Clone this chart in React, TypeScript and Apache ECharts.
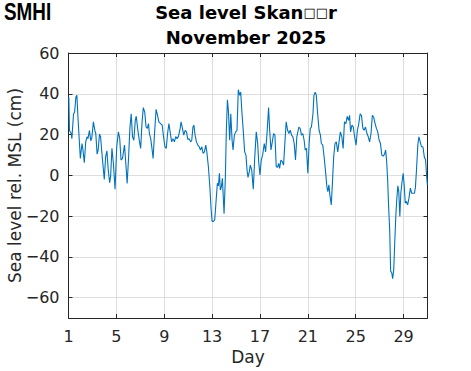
import React, { useEffect, useRef } from "react";
import * as echarts from "echarts";

const days: number[] = [
  1.0, 1.03, 1.08, 1.23, 1.28, 1.42, 1.51, 1.62, 1.7, 1.79, 1.9, 1.99, 2.13, 2.21, 2.32, 2.44, 2.55, 2.63, 2.75, 2.86,
  2.94, 3.08, 3.2, 3.28, 3.39, 3.48, 3.59, 3.68, 3.82, 3.99, 4.1, 4.21, 4.32, 4.44, 4.52, 4.63, 4.75, 4.89, 5.03, 5.17,
  5.28, 5.39, 5.51, 5.68, 5.79, 5.9, 6.01, 6.13, 6.24, 6.35, 6.46, 6.58, 6.66, 6.8, 6.92, 7.03, 7.14, 7.25, 7.37, 7.48,
  7.59, 7.68, 7.76, 7.87, 7.99, 8.07, 8.18, 8.32, 8.44, 8.55, 8.69, 8.83, 8.94, 9.06, 9.17, 9.28, 9.39, 9.51, 9.62, 9.73,
  9.85, 9.96, 10.07, 10.18, 10.3, 10.41, 10.52, 10.63, 10.75, 10.86, 10.97, 11.08, 11.2, 11.3, 11.4, 11.48, 11.58, 11.69,
  11.81, 11.92, 12.03, 12.14, 12.25, 12.36, 12.47, 12.56, 12.69, 12.81, 12.92, 13.0, 13.11, 13.22, 13.33, 13.44, 13.53,
  13.61, 13.69, 13.78, 13.86, 14.0, 14.11, 14.19, 14.28, 14.36, 14.47, 14.56, 14.67, 14.75, 14.86, 14.97, 15.08, 15.19,
  15.31, 15.39, 15.5, 15.61, 15.72, 15.83, 15.92, 16.0, 16.11, 16.19, 16.31, 16.44, 16.56, 16.69, 16.81, 16.89, 17.0,
  17.11, 17.22, 17.36, 17.47, 17.58, 17.64, 17.72, 17.81, 17.92, 18.03, 18.14, 18.25, 18.36, 18.47, 18.56, 18.64, 18.75,
  18.86, 18.97, 19.08, 19.19, 19.31, 19.42, 19.53, 19.64, 19.75, 19.86, 19.97, 20.08, 20.25, 20.36, 20.47, 20.58, 20.69,
  20.78, 20.89, 21.0, 21.11, 21.2, 21.3, 21.43, 21.51, 21.62, 21.71, 21.82, 21.94, 22.05, 22.13, 22.25, 22.36, 22.48,
  22.59, 22.67, 22.76, 22.84, 22.96, 23.04, 23.16, 23.27, 23.38, 23.5, 23.61, 23.72, 23.84, 23.95, 24.06, 24.18, 24.29,
  24.4, 24.49, 24.57, 24.69, 24.8, 24.91, 25.03, 25.14, 25.26, 25.37, 25.48, 25.6, 25.71, 25.82, 25.94, 26.05, 26.16,
  26.28, 26.39, 26.5, 26.62, 26.73, 26.84, 26.96, 27.07, 27.18, 27.3, 27.41, 27.5, 27.58, 27.67, 27.75, 27.84, 27.92,
  28.01, 28.09, 28.18, 28.26, 28.35, 28.43, 28.52, 28.6, 28.69, 28.77, 28.89, 28.97, 29.06, 29.14, 29.23, 29.34, 29.45,
  29.57, 29.68, 29.79, 29.91, 29.99, 30.08, 30.19, 30.28, 30.39, 30.5, 30.62, 30.73, 30.84, 30.93, 30.99,
];

const seaLevel: number[] = [
  38.4, 38, 22, 20.5, 18, 30, 31, 38.4, 39.2, 28.6, 17.2, 8.3, 15.6, 12.4, 6.2, 16.4, 18.9, 18, 22, 17,
  18, 26.2, 22, 20.5, 10.4, 12.4, 20.2, 18.9, 9, -2, 9, 12, 2.6, -3.6, -0.6, 13.2, 5.9, -6.8, 14, 21.3,
  18, 7.5, 8.3, 14.8, 5.9, -4, 7.5, 23, 30.2, 18.9, 17.2, 27, 29, 22, 17, 13.2, 25.4, 33.2, 31, 23.7,
  23, 25.4, 20.5, 18, 12.4, 8.3, 19.7, 32.4, 29.4, 26.2, 25.4, 24.6, 19, 14, 13.2, 20.5, 25.4, 20.5, 16.4, 18,
  16.4, 19, 18, 19, 22, 26.2, 23, 19.7, 22, 21.3, 17.6, 18, 16.4, 17.2, 23.7, 24.6, 19.7, 16.4,
  14.8, 14, 12.4, 14, 10.7, 11.5, 14.8, 11.5, 4.2, -5.5, -16.9, -22.6, -22.6, -21.8, -12.8, -3.9, -5.2,
  1, -7.2, -5.5, -1.5, -18.9, -0.7, 22.1, 37.1, 31.9, 17.2, 30.2, 17.2, 12.4, 19.7, 21.3, 22.1, 42,
  39.2, 40.8, 30.2, 21.3, 11.5, 9.9, 2.6, -1, 1.8, 5, 2.6, -6.8, 8.3, 21.3, 15.6, 6.7, 0.2,
  7.5, 9.9, 15.6, 11.5, 19.7, 25.4, 33.2, 22.1, 12.4, 16.4, 20.5, 19.7, 4.2, 3.9, 5.9, 3.4, 7.5,
  6.7, 5, 15.6, 26.2, 22.1, 20.5, 22.1, 19.7, 18.9, 15.6, 7.5, 18.9, 23.7, 22.9, 19.7, 20.5, 17.2,
  12.4, 13.2, 1, 15.6, 22.9, 23.7, 30.2, 39.2, 40.8, 39.2, 30.2, 22.1, 19.7, 15.6, 14.8, 9.1, 1.8,
  -5.5, -8, -4.7, -9.6, -14.5, -5.5, 9.1, 15.6, 16.4, 11.5, 16.4, 21.3, 18.9, 13.2, 26.2, 25.4, 28.9,
  27, 29.4, 21.3, 24.6, 23.7, 18.9, 14.8, 22.1, 25.4, 30.2, 29.4, 23, 22.1, 23.7, 20.5, 18.9, 16.4,
  20.5, 29.4, 28.6, 25.4, 23, 21.3, 17.2, 15.6, 9.9, 9.4, 10.4, 12.4, 7.5, -2.3, -15.3, -26.7, -47,
  -47.8, -50.7, -46.2, -33.2, -20.2, -12, -5.2, -8, -20.2, -8.8, -2.3, 1, -5.5, -13.7, -12.8, -14.5, -11.2,
  -6.3, -8.8, -8.8, -8.8, -5.9, 2.6, 14.8, 18.9, 16.4, 14, 14, 9.1, 7.5, -0.7, -4.7,
];

const yTicks: number[] = [-60, -40, -20, 0, 20, 40, 60];
const titleLines: string[] = ["Sea level Skan{box|\u25A1\u25A1}r", "November 2025"];

const FONT = "DejaVu Sans";
const AXIS = "#262626";
const GRID = "#dedede";

export default function App() {
  const ref = useRef<HTMLDivElement>(null);
  useEffect(() => {
    if (!ref.current) return;
    const chart = echarts.init(ref.current, undefined, { renderer: "svg" });
    const fmt = (v: number) => String(v).replace("-", "\u2212");
    const baseX = {
      type: "value" as const,
      min: 1,
      max: 31,
      interval: 4,
      axisLine: { show: true, onZero: false, lineStyle: { color: AXIS, width: 1 } },
      axisTick: { show: true, inside: true, length: 4, lineStyle: { color: AXIS, width: 1 } },
    };
    const baseY = {
      type: "value" as const,
      min: -70,
      max: 60,
      splitNumber: 7,
      axisLine: { show: true, onZero: false, lineStyle: { color: AXIS, width: 1 } },
      axisTick: { show: true, inside: true, length: 4, customValues: yTicks, lineStyle: { color: AXIS, width: 1 } },
    };
    chart.setOption({
      animation: false,
      backgroundColor: "#ffffff",
      grid: {
        left: 68.5,
        right: 43.5,
        top: 53,
        bottom: 53,
        containLabel: false,
        outerBoundsMode: "none",
      },
      xAxis: [
        {
          ...baseX,
          position: "bottom",
          axisLabel: { fontFamily: FONT, fontSize: 16, color: AXIS, margin: 10, showMaxLabel: false, formatter: fmt },
          splitLine: { show: true, lineStyle: { color: GRID, width: 1 } },
          name: "Day",
          nameLocation: "middle",
          nameGap: 30,
          nameMoveOverlap: false,
          nameTextStyle: { fontFamily: FONT, fontSize: 17, color: AXIS },
        },
        {
          ...baseX,
          position: "top",
          axisLabel: { show: false },
          splitLine: { show: false },
        },
      ],
      yAxis: [
        {
          ...baseY,
          position: "left",
          axisLabel: {
            fontFamily: FONT,
            fontSize: 16,
            color: AXIS,
            margin: 9,
            customValues: yTicks,
            formatter: fmt,
          },
          splitLine: { show: true, lineStyle: { color: GRID, width: 1 } },
          name: "Sea level rel. MSL (cm)",
          nameLocation: "middle",
          nameGap: 45,
          nameMoveOverlap: false,
          nameTextStyle: { fontFamily: FONT, fontSize: 17, color: AXIS },
        },
        {
          ...baseY,
          position: "right",
          axisLabel: { show: false },
          splitLine: { show: false },
        },
      ],
      graphic: [
        {
          type: "text",
          x: 4,
          y: 0,
          scaleX: 0.82,
          style: {
            text: "SMHI",
            fontFamily: "Liberation Sans",
            fontWeight: "bold",
            fontSize: 23,
            fill: "#000000",
          },
        },
        {
          type: "text",
          x: 246,
          y: 0,
          style: {
            text: titleLines.join("\n"),
            fontFamily: FONT,
            fontWeight: "bold",
            fontSize: 18,
            lineHeight: 25,
            fill: "#000000",
            align: "center",
            rich: {
              box: { fontFamily: FONT, fontWeight: "normal", fontSize: 13, fill: "#000000", lineHeight: 25 },
            },
          },
        },
      ],
      series: [
        {
          type: "line",
          xAxisIndex: 0,
          yAxisIndex: 0,
          showSymbol: false,
          symbol: "none",
          clip: true,
          lineStyle: { color: "#0072BD", width: 1.1 },
          data: days.map((d, i) => [d, seaLevel[i]]),
        },
      ],
    });
    return () => chart.dispose();
  }, []);
  return (
    <div
      ref={ref}
      style={{ position: "fixed", left: 0, top: 0, width: 471, height: 371, background: "#fff" }}
    />
  );
}
